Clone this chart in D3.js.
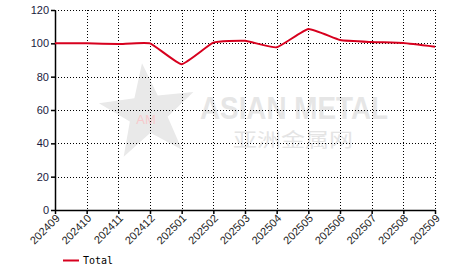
<!DOCTYPE html>
<html><head><meta charset="utf-8">
<script src="https://cdn.jsdelivr.net/npm/d3@7"></script>
<style>body{margin:0;background:#fff}svg{display:block}</style>
</head><body>
<script>
const months = ["202409","202410","202411","202412","202501","202502","202503","202504","202505","202506","202507","202508","202509"];
const totalValues = [100, 100, 99.6, 100, 87.5, 100.4, 101.5, 97.6, 108.6, 102, 100.8, 100.2, 98];
const yTicks = [0, 20, 40, 60, 80, 100, 120];
const seriesName = "Total";

const W = 466, H = 272;
const m = {l: 55, r: 31, t: 10, b: 62};
const svg = d3.select("body").append("svg").attr("width", W).attr("height", H);

const x = d3.scalePoint().domain(months).range([m.l, W - m.r]);
const y = d3.scaleLinear().domain([0, 120]).range([H - m.b, m.t]);

// watermark
const wm = svg.append("g");
const cx = 148, cy = 113, R = 50, r = 20;
const pts = [];
for (let i = 0; i < 10; i++) {
  const a = -Math.PI / 2 + i * Math.PI / 5 - 0.12;
  const rr = i % 2 === 0 ? R : r;
  pts.push([cx + rr * Math.cos(a), cy + rr * Math.sin(a)]);
}
wm.append("polygon").attr("points", pts.map(p => p.join(",")).join(" ")).attr("fill", "#e9e9e9");
wm.append("text").attr("x", 146).attr("y", 124).attr("text-anchor", "middle")
  .attr("font-family", "Liberation Sans, Arial, sans-serif").attr("font-size", 13).attr("fill", "#f7c9cc").text("AM");
wm.append("text").attr("x", 200).attr("y", 119).attr("textLength", 188).attr("lengthAdjust", "spacingAndGlyphs")
  .attr("font-family", "Liberation Sans, Arial, sans-serif").attr("font-size", 32).attr("font-weight", "bold").attr("fill", "#e6e6e6").text("ASIAN METAL");
wm.append("text").attr("x", 233).attr("y", 147).attr("textLength", 120).attr("lengthAdjust", "spacingAndGlyphs")
  .attr("font-family", "Noto Sans CJK SC, sans-serif").attr("font-size", 19).attr("fill", "#e4e4e4").text("亚洲金属网");

// grid
const grid = svg.append("g").attr("stroke", "#000").attr("stroke-width", 1).attr("stroke-dasharray", "1,2").attr("shape-rendering", "crispEdges");
months.forEach(mm => {
  const xx = Math.round(x(mm)) + 0.5;
  grid.append("line").attr("x1", xx).attr("x2", xx).attr("y1", m.t).attr("y2", H - m.b);
});
yTicks.forEach(v => {
  const yy = Math.round(y(v)) + 0.5;
  grid.append("line").attr("x1", m.l).attr("x2", W - m.r).attr("y1", yy).attr("y2", yy);
});

// axes
const yAxis = svg.append("g").attr("transform", `translate(${m.l},0)`)
  .call(d3.axisLeft(y).tickValues(yTicks).tickSize(4).tickSizeOuter(0));
const xAxis = svg.append("g").attr("transform", `translate(0,${H - m.b})`)
  .call(d3.axisBottom(x).tickSize(4).tickSizeOuter(0));
[yAxis, xAxis].forEach(a => {
  a.select(".domain").attr("stroke", "#000").attr("stroke-width", 1.5);
  a.selectAll(".tick line").attr("stroke", "#000").attr("stroke-width", 1.5);
  a.selectAll("text").attr("font-family", "Liberation Sans, Arial, sans-serif").attr("font-size", 11).attr("fill", "#000");
});
yAxis.selectAll("text").attr("x", -6).attr("fill", "#1a1a40");
xAxis.selectAll("text").attr("text-anchor", "end").attr("dy", 0).attr("y", 0)
  .attr("transform", "translate(5,9) rotate(-45)").attr("fill", "#222");

// line
svg.append("path").datum(totalValues)
  .attr("fill", "none").attr("stroke", "#d7001e").attr("stroke-width", 2)
  .attr("d", d3.line().x((d, i) => x(months[i])).y(d => y(d)).curve(d3.curveCardinal.tension(0.6)));

// legend
svg.append("line").attr("x1", 63).attr("x2", 79).attr("y1", 260.5).attr("y2", 260.5).attr("stroke", "#d7001e").attr("stroke-width", 2);
svg.append("text").attr("x", 83).attr("y", 264).attr("font-family", "DejaVu Sans Mono, monospace").attr("font-size", 10).attr("fill", "#000").text(seriesName);
</script>
</body></html>
